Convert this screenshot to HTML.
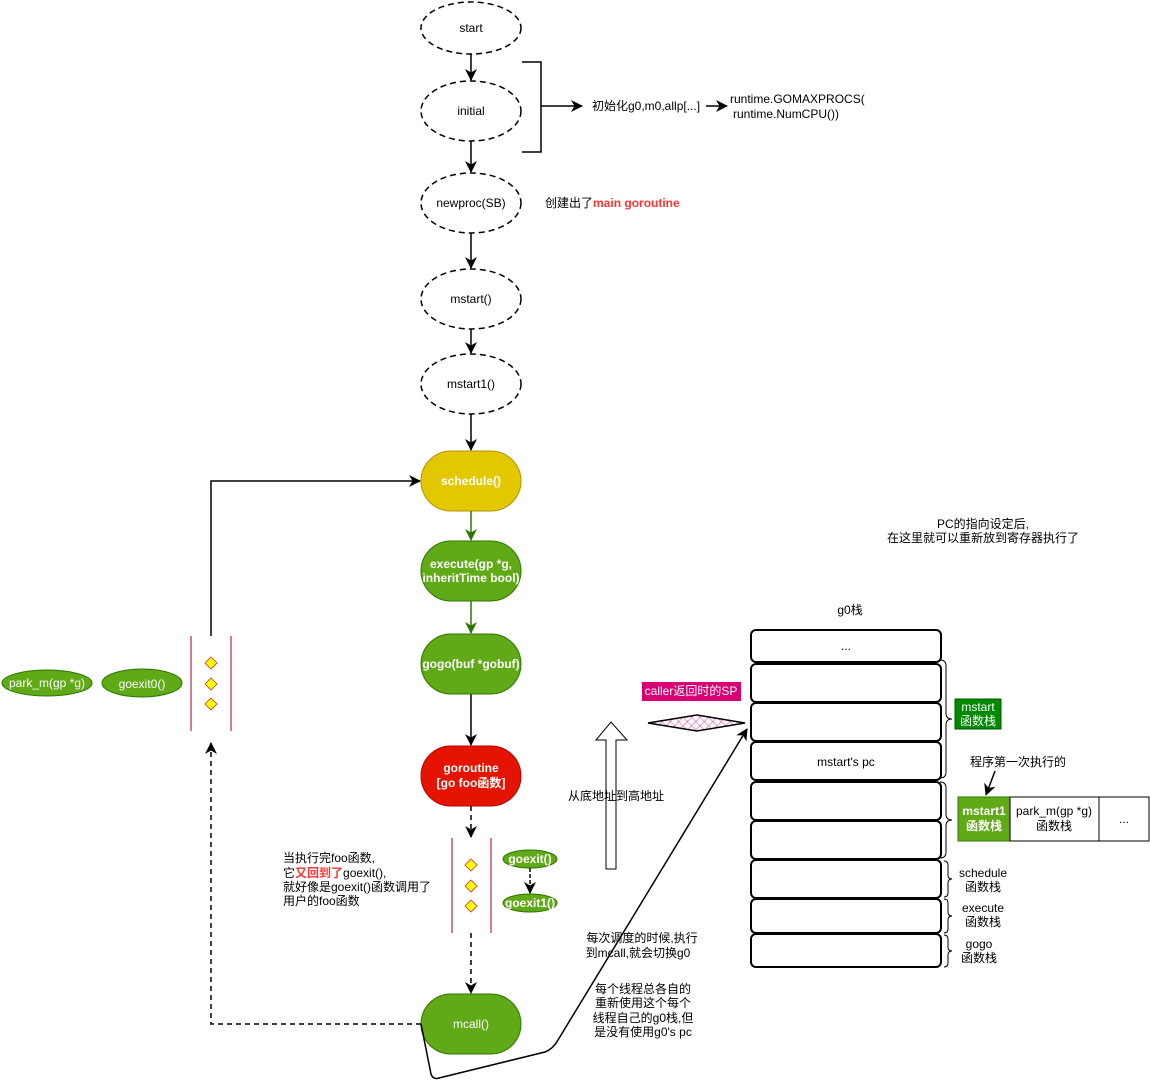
<!DOCTYPE html>
<html><head><meta charset="utf-8"><style>
html,body{margin:0;padding:0;background:#fff;}
svg{display:block;font-family:"Liberation Sans","Noto Sans CJK SC",sans-serif;}
text{font-size:12px;}
</style></head><body>
<svg width="1150" height="1091" viewBox="0 0 1150 1091" xmlns="http://www.w3.org/2000/svg">
<defs>
<marker id="a" markerWidth="14" markerHeight="14" refX="11" refY="6" orient="auto" markerUnits="userSpaceOnUse"><path d="M0,0 L12,6 L0,12 L3.5,6 Z" fill="#000"/></marker>
<marker id="ag" markerWidth="14" markerHeight="14" refX="11" refY="6" orient="auto" markerUnits="userSpaceOnUse"><path d="M0,0 L12,6 L0,12 L3.5,6 Z" fill="#2d7600"/></marker>
<pattern id="h" width="6" height="6" patternUnits="userSpaceOnUse" patternTransform="rotate(45)"><line x1="0" y1="0" x2="0" y2="6" stroke="#ff3399" stroke-width="1"/><line x1="0" y1="0" x2="6" y2="0" stroke="#ff3399" stroke-width="1"/></pattern>
</defs>
<g fill="#fff" stroke="#000" stroke-width="1.5" stroke-dasharray="6,4">
<ellipse cx="471" cy="28" rx="50" ry="26"/>
<ellipse cx="471" cy="111" rx="50" ry="30"/>
<ellipse cx="471" cy="203" rx="50" ry="30"/>
<ellipse cx="471" cy="299" rx="50" ry="30"/>
<ellipse cx="471" cy="384" rx="50" ry="30"/>
</g>
<g text-anchor="middle">
<text x="471" y="32">start</text>
<text x="471" y="115">initial</text>
<text x="471" y="207">newproc(SB)</text>
<text x="471" y="303">mstart()</text>
<text x="471" y="388">mstart1()</text>
</g>
<g stroke="#000" stroke-width="1.5" fill="none">
<line x1="471" y1="54" x2="471" y2="80" marker-end="url(#a)"/>
<line x1="471" y1="141" x2="471" y2="172" marker-end="url(#a)"/>
<line x1="471" y1="233" x2="471" y2="268" marker-end="url(#a)"/>
<line x1="471" y1="329" x2="471" y2="353" marker-end="url(#a)"/>
<line x1="471" y1="414" x2="471" y2="450" marker-end="url(#a)"/>
<path d="M522,62 H541 V152 H522"/>
<line x1="541" y1="106" x2="582" y2="106" marker-end="url(#a)"/>
<line x1="706" y1="106" x2="727" y2="106" marker-end="url(#a)"/>
<line x1="471" y1="694" x2="471" y2="745" marker-end="url(#a)"/>
</g>
<text x="592" y="110">初始化g0,m0,allp[...]</text>
<text x="730" y="103">runtime.GOMAXPROCS(</text>
<text x="733" y="118">runtime.NumCPU())</text>
<text x="545" y="207">创建出了<tspan fill="#ff3333" font-weight="bold">main goroutine</tspan></text>

<rect x="421" y="451" width="100" height="60" rx="30" fill="#e3c800" stroke="#b09500"/>
<rect x="421" y="541" width="100" height="60" rx="30" fill="#60a917" stroke="#2d7600"/>
<rect x="421" y="634" width="100" height="60" rx="30" fill="#60a917" stroke="#2d7600"/>
<rect x="421" y="746" width="100" height="60" rx="30" fill="#e51400" stroke="#b20000"/>
<rect x="421" y="994" width="100" height="60" rx="30" fill="#60a917" stroke="#2d7600"/>
<g fill="#fff" text-anchor="middle" font-weight="bold">
<text x="471" y="485">schedule()</text>
<text x="471" y="568">execute(gp *g,</text>
<text x="471" y="582">inheritTime bool)</text>
<text x="471" y="668">gogo(buf *gobuf)</text>
<text x="471" y="772">goroutine</text>
<text x="471" y="787">[go foo函数]</text>
<text x="471" y="1028" font-weight="normal">mcall()</text>
</g>
<g stroke="#2d7600" stroke-width="1.5">
<line x1="471" y1="511" x2="471" y2="540" marker-end="url(#ag)"/>
<line x1="471" y1="601" x2="471" y2="633" marker-end="url(#ag)"/>
</g>
<g stroke="#000" stroke-width="1.5" stroke-dasharray="5,4" fill="none">
<line x1="471" y1="806" x2="471" y2="837" marker-end="url(#a)"/>
<line x1="471" y1="933" x2="471" y2="993" marker-end="url(#a)"/>
<path d="M421,1024 H211 V743" marker-end="url(#a)"/>
</g>
<g stroke="#a20025" stroke-width="1">
<line x1="452" y1="838" x2="452" y2="933"/><line x1="491" y1="838" x2="491" y2="933"/>
<line x1="191" y1="636" x2="191" y2="731"/><line x1="231" y1="636" x2="231" y2="731"/>
</g>
<g fill="#ffff00" stroke="#cc3333" stroke-width="0.8">
<path d="M471,859 l6,6 -6,6 -6,-6z"/><path d="M471,880 l6,6 -6,6 -6,-6z"/><path d="M471,900 l6,6 -6,6 -6,-6z"/>
<path d="M211,657 l6,6 -6,6 -6,-6z"/><path d="M211,678 l6,6 -6,6 -6,-6z"/><path d="M211,698 l6,6 -6,6 -6,-6z"/>
</g>
<path d="M211,636 V481 H420" stroke="#000" stroke-width="1.5" fill="none" marker-end="url(#a)"/>
<ellipse cx="47" cy="683" rx="45" ry="13" fill="#60a917" stroke="#2d7600"/>
<ellipse cx="142" cy="683" rx="40" ry="14" fill="#60a917" stroke="#2d7600"/>
<ellipse cx="530" cy="859" rx="27" ry="9" fill="#60a917" stroke="#2d7600"/>
<ellipse cx="530" cy="903" rx="27" ry="9" fill="#60a917" stroke="#2d7600"/>
<g fill="#fff" text-anchor="middle">
<text x="47" y="687">park_m(gp *g)</text>
<text x="142" y="688">goexit0()</text>
<text x="530" y="863" font-weight="bold" font-size="11">goexit()</text>
<text x="530" y="907" font-weight="bold" font-size="11">goexit1()</text>
</g>
<line x1="530" y1="868" x2="530" y2="893" stroke="#000" stroke-width="1.5" stroke-dasharray="4,2" marker-end="url(#a)"/>
<text x="283" y="862">当执行完foo函数,</text>
<text x="283" y="877">它<tspan fill="#ff3333" font-weight="bold">又回到了</tspan>goexit(),</text>
<text x="283" y="891">就好像是goexit()函数调用了</text>
<text x="283" y="905">用户的foo函数</text>

<path d="M606,869 V740 H596 L611,722 L627,740 H616 V869 Z" fill="#fff" stroke="#000"/>
<path d="M421,1024 L431,1074 Q433,1080 439,1078 L545,1052 Q553,1049 558,1040 L747,729" stroke="#000" stroke-width="1.5" fill="none" marker-end="url(#a)"/>
<g text-anchor="middle">
<text x="642" y="942">每次调度的时候,执行</text>
<text x="638" y="957">到mcall,就会切换g0</text>
<text x="643" y="993">每个线程总各自的</text>
<text x="643" y="1007">重新使用这个每个</text>
<text x="643" y="1022">线程自己的g0栈,但</text>
<text x="643" y="1036">是没有使用g0's pc</text>
<text x="616" y="800">从底地址到高地址</text>
<text x="983" y="528">PC的指向设定后,</text>
<text x="983" y="542">在这里就可以重新放到寄存器执行了</text>
<text x="850" y="614">g0栈</text>
</g>
<rect x="642" y="682" width="99" height="19" fill="#d80073"/>
<text x="691" y="695" fill="#fff" text-anchor="middle">caller返回时的SP</text>
<path d="M648,723 L697,715 L745,723 L697,731 Z" fill="url(#h)" stroke="#000" stroke-width="1.5"/>

<g fill="#fff" stroke="#000" stroke-width="2">
<rect x="751" y="630" width="190" height="32" rx="5"/>
<rect x="751" y="664" width="190" height="38" rx="5"/>
<rect x="751" y="703" width="190" height="38" rx="5"/>
<rect x="751" y="742" width="190" height="38" rx="5"/>
<rect x="751" y="782" width="190" height="38" rx="5"/>
<rect x="751" y="821" width="190" height="38" rx="5"/>
<rect x="751" y="860" width="190" height="38" rx="5"/>
<rect x="751" y="899" width="190" height="34" rx="5"/>
<rect x="751" y="934" width="190" height="33" rx="5"/>
</g>
<text x="846" y="650" text-anchor="middle">...</text>
<text x="846" y="766" text-anchor="middle">mstart's pc</text>
<g stroke="#000" fill="none" stroke-width="1">
<path d="M940,660 q6,0 6,6 v47 q0,6 6,6 q-6,0 -6,6 v47 q0,6 -6,6"/>
<path d="M940,782 q6,0 6,6 v26 q0,6 6,6 q-6,0 -6,6 v26 q0,6 -6,6"/>
<path d="M944,861 q4,0 4,4 v10 q0,4 4,4 q-4,0 -4,4 v10 q0,4 -4,4"/>
<path d="M944,899 q4,0 4,4 v9 q0,4 4,4 q-4,0 -4,4 v9 q0,4 -4,4"/>
<path d="M944,935 q4,0 4,4 v8 q0,4 4,4 q-4,0 -4,4 v8 q0,4 -4,4"/>
</g>
<rect x="955" y="699" width="46" height="30" fill="#008a00" stroke="#005700"/>
<text x="978" y="711" fill="#fff" text-anchor="middle">mstart</text>
<text x="978" y="725" fill="#fff" text-anchor="middle">函数栈</text>
<rect x="958" y="797" width="52" height="44" fill="#60a917" stroke="#2d7600"/>
<rect x="1010" y="797" width="89" height="44" fill="#fff" stroke="#000"/>
<rect x="1099" y="797" width="50" height="44" fill="#fff" stroke="#000"/>
<g text-anchor="middle">
<text x="984" y="815" fill="#fff" font-weight="bold">mstart1</text>
<text x="984" y="830" fill="#fff" font-weight="bold">函数栈</text>
<text x="1054" y="815">park_m(gp *g)</text>
<text x="1054" y="830">函数栈</text>
<text x="1124" y="823">...</text>
<text x="1018" y="766">程序第一次执行的</text>
<text x="983" y="877">schedule</text>
<text x="983" y="891">函数栈</text>
<text x="983" y="912">execute</text>
<text x="983" y="926">函数栈</text>
<text x="979" y="948">gogo</text>
<text x="979" y="962">函数栈</text>
</g>
<line x1="995" y1="771" x2="986" y2="795" stroke="#000" stroke-width="1.5" marker-end="url(#a)"/>
</svg>
</body></html>
